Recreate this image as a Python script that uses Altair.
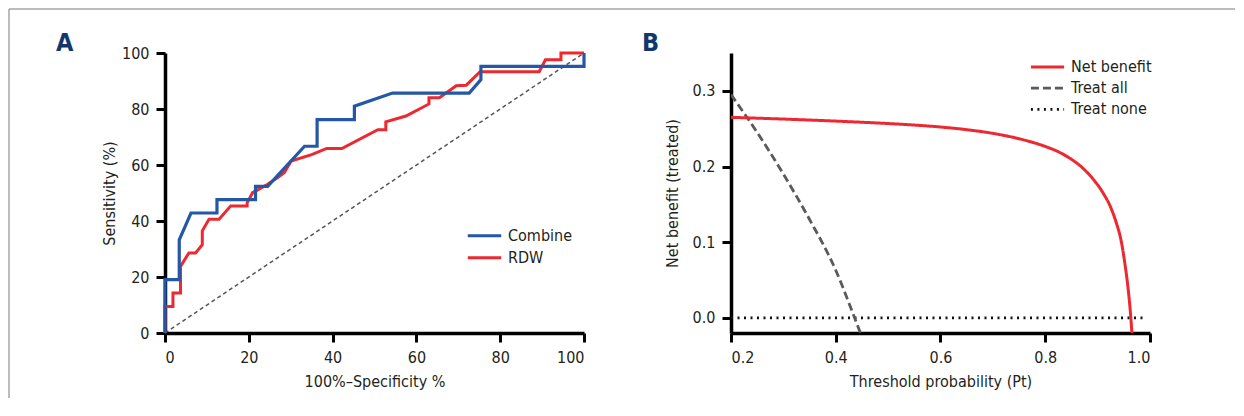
import altair as alt
import pandas as pd

# ---------------- Panel A: ROC curves ----------------
combine_fpr = [0, 0, 3.4, 3.4, 6.2, 12.4, 12.4, 21.6, 21.6, 24.5, 33.3, 36.3, 36.3,
               45.2, 45.2, 54.3, 72.6, 75.4, 75.4, 100, 100]
combine_tpr = [0, 19.05, 19.05, 33.3, 42.86, 42.86, 47.6, 47.6, 52.4, 52.4, 66.7, 66.7,
               76.2, 76.2, 81.0, 85.7, 85.7, 90.5, 95.2, 95.2, 100]

rdw_fpr = [0, 0, 1.9, 1.9, 3.7, 3.7, 5.7, 7.3, 8.9, 8.9, 10.5, 12.9, 15.7, 19.6, 19.6,
           20.9, 24.5, 26.9, 28.5, 30.1, 35.0, 38.6, 42.2, 50.8, 52.7, 52.7, 57.5,
           63.0, 63.0, 65.5, 69.5, 71.9, 75.2, 89.3, 90.8, 94.5, 94.5, 100]
rdw_tpr = [0, 9.5, 9.5, 14.3, 14.3, 23.8, 28.6, 28.6, 31.5, 36.5, 40.6, 40.6, 45.4,
           45.4, 46.5, 50.1, 53.1, 55.5, 57.3, 61.4, 63.7, 65.9, 65.9, 72.6, 72.6,
           75.4, 77.5, 81.8, 84.0, 84.0, 88.3, 88.5, 93.3, 93.3, 97.6, 97.6, 100, 100]

diag_x = [0, 100]
diag_y = [0, 100]

roc_models = ["Combine", "RDW"]
roc_ticks = [0, 20, 40, 60, 80, 100]

# ---------------- Panel B: decision curve ----------------
nb_pt = [0.20, 0.30, 0.40, 0.50, 0.55, 0.60, 0.65, 0.70, 0.75, 0.80, 0.825, 0.85,
         0.87, 0.89, 0.91, 0.925, 0.935, 0.945, 0.952, 0.958, 0.962, 0.9655]
nb_val = [0.265, 0.2627, 0.2600, 0.2568, 0.2548, 0.2522, 0.2487, 0.2438, 0.2367,
          0.2265, 0.2195, 0.2095, 0.199, 0.1845, 0.1655, 0.146, 0.127, 0.1015,
          0.072, 0.040, 0.012, -0.02]

all_pt = [0.20, 0.25, 0.30, 0.35, 0.40, 0.436, 0.447]
all_val = [0.295, 0.245, 0.19, 0.13, 0.063, 0.0, -0.02]

none_pt = [0.20, 0.99]
none_val = [0.0, 0.0]

dca_series = ["Net benefit", "Treat all", "Treat none"]
dca_x_ticks = [0.2, 0.4, 0.6, 0.8, 1.0]
dca_y_ticks = [0.0, 0.1, 0.2, 0.3]

# ---------------- styling ----------------
FONT = "Liberation Sans Narrow, DejaVu Sans Condensed, Roboto, sans-serif"
TXT = "#231f20"
BLUE = "#2457a6"
RED = "#ec2830"
NAVY = "#12386b"
FRAME = "#7a7a7a"
FS = 16
W, H = 419, 280

# ---------------- Panel A build ----------------
rows = []
for i, (x, y) in enumerate(zip(combine_fpr, combine_tpr)):
    rows.append({"fpr": x, "tpr": y, "model": "Combine", "idx": i})
for i, (x, y) in enumerate(zip(rdw_fpr, rdw_tpr)):
    rows.append({"fpr": x, "tpr": y, "model": "RDW", "idx": i})
roc_df = pd.DataFrame(rows)
diag_df = pd.DataFrame({"fpr": diag_x, "tpr": diag_y})

xA = alt.X("fpr:Q", scale=alt.Scale(domain=[0, 100], nice=False),
           axis=alt.Axis(values=roc_ticks, title="100%–Specificity %", titlePadding=8))
yA = alt.Y("tpr:Q", scale=alt.Scale(domain=[0, 100], nice=False),
           axis=alt.Axis(values=roc_ticks, title="Sensitivity (%)", titlePadding=4))

colorA = alt.Color(
    "model:N",
    scale=alt.Scale(domain=roc_models, range=[BLUE, RED]),
    title=None,
    legend=alt.Legend(orient="none", legendX=301, legendY=173, symbolType="stroke",
                      symbolSize=1120, symbolStrokeWidth=3, labelFontSize=FS,
                      labelFont=FONT, labelColor=TXT, padding=0, labelOffset=5,
                      clipHeight=19.7, rowPadding=2),
)

diagA = alt.Chart(diag_df).mark_line(color="#555555", strokeWidth=1.5,
                                     strokeDash=[4, 3]).encode(x=xA, y=yA)
redA = alt.Chart(roc_df).transform_filter(alt.datum.model == "RDW").mark_line(
    strokeWidth=3).encode(x=xA, y=yA, color=colorA, order="idx:Q")
blueA = alt.Chart(roc_df).transform_filter(alt.datum.model == "Combine").mark_line(
    strokeWidth=3.2).encode(x=xA, y=yA, color=colorA, order="idx:Q")

one = pd.DataFrame({"label": ["A"]})
topA = alt.Chart(one).mark_rule(color=FRAME, strokeWidth=1).encode(
    x=alt.value(-156), x2=alt.value(456), y=alt.value(-44))
leftA = alt.Chart(one).mark_rule(color=FRAME, strokeWidth=1).encode(
    x=alt.value(-156), y=alt.value(-44), y2=alt.value(345))
letterA = alt.Chart(one).mark_text(font=FONT, fontSize=25, fontWeight="bold",
                                   color=NAVY, align="left", baseline="alphabetic").encode(
    text="label:N", x=alt.value(-109), y=alt.value(-2))

panelA = alt.layer(diagA, redA, blueA, topA, leftA, letterA).properties(width=W, height=H)

# ---------------- Panel B build ----------------
rows = []
for i, (x, y) in enumerate(zip(none_pt, none_val)):
    rows.append({"pt": x, "nb": y, "series": "Treat none", "idx": i})
for i, (x, y) in enumerate(zip(all_pt, all_val)):
    rows.append({"pt": x, "nb": y, "series": "Treat all", "idx": i})
for i, (x, y) in enumerate(zip(nb_pt, nb_val)):
    rows.append({"pt": x, "nb": y, "series": "Net benefit", "idx": i})
dca_df = pd.DataFrame(rows)

xB = alt.X("pt:Q", scale=alt.Scale(domain=[0.2, 1.0], nice=False),
           axis=alt.Axis(values=dca_x_ticks, format=".1f",
                         title="Threshold probability (Pt)", titlePadding=8))
yB = alt.Y("nb:Q", scale=alt.Scale(domain=[-0.02, 0.35], nice=False),
           axis=alt.Axis(values=dca_y_ticks, format=".1f",
                         title="Net benefit (treated)", titlePadding=12))

legB = alt.Legend(orient="none", legendX=298, legendY=4.5, symbolType="stroke",
                  symbolSize=1100, symbolStrokeWidth=2.5, labelFontSize=FS,
                  labelFont=FONT, labelColor=TXT, padding=0, labelOffset=5,
                  clipHeight=19, rowPadding=2.2)

linesB = alt.Chart(dca_df).mark_line(clip=True, interpolate="monotone").encode(
    x=xB, y=yB,
    color=alt.Color("series:N", scale=alt.Scale(domain=dca_series,
                                                range=[RED, "#5a5a5a", "#111111"]),
                    title=None, legend=legB),
    strokeDash=alt.StrokeDash("series:N", scale=alt.Scale(domain=dca_series,
                                                          range=[[1, 0], [8, 4], [2, 4.5]]),
                              title=None, legend=legB),
    strokeWidth=alt.StrokeWidth("series:N", scale=alt.Scale(domain=dca_series,
                                                            range=[3, 2.6, 2.2]),
                                legend=None),
    order="idx:Q",
)

oneB = pd.DataFrame({"label": ["B"]})
topB = alt.Chart(oneB).mark_rule(color=FRAME, strokeWidth=1).encode(
    x=alt.value(-110), x2=alt.value(504), y=alt.value(-44))
letterB = alt.Chart(oneB).mark_text(font=FONT, fontSize=25, fontWeight="bold",
                                    color=NAVY, align="left", baseline="alphabetic").encode(
    text="label:N", x=alt.value(-89), y=alt.value(-2))

panelB = alt.layer(linesB, topB, letterB).properties(width=W, height=H)

chart = alt.hconcat(panelA, panelB, spacing=147, bounds="flush").resolve_scale(
    color="independent", strokeDash="independent", strokeWidth="independent"
).properties(padding=0).configure_view(strokeWidth=0).configure_axis(
    grid=False,
    domainColor="black", domainWidth=3.5,
    tickColor="black", tickWidth=3, tickSize=9,
    labelFont=FONT, labelFontSize=FS, labelColor=TXT, labelPadding=7,
    titleFont=FONT, titleFontSize=FS, titleFontWeight="normal", titleColor=TXT,
)

chart.save("out.html", embed_options={"renderer": "svg", "actions": False})
